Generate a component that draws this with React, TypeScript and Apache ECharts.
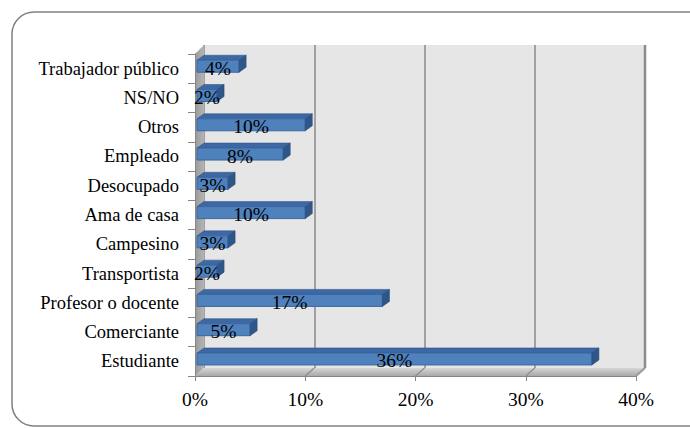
import React, { useEffect, useRef } from "react";
import * as echarts from "echarts";

const categories = [
  "Estudiante",
  "Comerciante",
  "Profesor o docente",
  "Transportista",
  "Campesino",
  "Ama de casa",
  "Desocupado",
  "Empleado",
  "Otros",
  "NS/NO",
  "Trabajador público",
];
const values = [36, 5, 17, 2, 3, 10, 3, 8, 10, 2, 4];
const axisMin = 0;
const axisMax = 40;
const axisStep = 10;

const FONT = "'Times New Roman', 'Liberation Serif', serif";

export default function App() {
  const ref = useRef<HTMLDivElement>(null);
  useEffect(() => {
    if (!ref.current) return;
    const chart = echarts.init(ref.current, null, { renderer: "svg" });
    const front = { left: 195, top: 54, width: 441, height: 322 };
    const back = { left: 204, top: 45, width: 441, height: 323 };
    const ox = back.left - front.left;
    const oy = front.top + front.height - (back.top + back.height);
    const nTicks = (axisMax - axisMin) / axisStep;
    const floorLines: any[] = [];
    for (let i = 1; i < nTicks; i++) {
      const x = front.left + (front.width * i) / nTicks;
      floorLines.push({
        type: "line",
        z: 1,
        shape: { x1: x, y1: front.top + front.height, x2: x + ox, y2: front.top + front.height - oy },
        style: { stroke: "#8a8a8a", lineWidth: 1.2 },
      });
    }
    const option: any = {
      animation: false,
      backgroundColor: "#ffffff",
      textStyle: { fontFamily: FONT },
      grid: [
        { ...front, containLabel: false, z: 0 },
        { ...back, show: true, backgroundColor: "#e6e6e6", borderWidth: 0, z: 0 },
      ],
      graphic: [
        {
          type: "rect",
          z: -5,
          shape: { x: 12, y: 12, width: 700, height: 414, r: 22 },
          style: { fill: "none", stroke: "#808080", lineWidth: 1.5 },
        },
        {
          type: "polygon",
          z: 1,
          shape: {
            points: [
              [front.left, front.top],
              [back.left, back.top],
              [back.left, back.top + back.height],
              [front.left, front.top + front.height],
            ],
          },
          style: {
            fill: new echarts.graphic.LinearGradient(0, 0, 1, 0, [
              { offset: 0, color: "#9a9a9a" },
              { offset: 1, color: "#b4b4b4" },
            ]),
          },
        },
        {
          type: "polygon",
          z: 1,
          shape: {
            points: [
              [front.left, front.top + front.height],
              [back.left, back.top + back.height],
              [back.left + back.width, back.top + back.height],
              [front.left + front.width, front.top + front.height],
            ],
          },
          style: {
            fill: new echarts.graphic.LinearGradient(0, 0, 0, 1, [
              { offset: 0, color: "#d6d6d6" },
              { offset: 1, color: "#a9a9a9" },
            ]),
          },
        },
        {
          type: "line",
          z: 1,
          shape: {
            x1: back.left + back.width,
            y1: back.top,
            x2: back.left + back.width,
            y2: back.top + back.height,
          },
          style: { stroke: "#8c8c8c", lineWidth: 2.5 },
        },
        {
          type: "line",
          z: 1,
          shape: {
            x1: back.left + back.width,
            y1: back.top + back.height,
            x2: front.left + front.width,
            y2: front.top + front.height,
          },
          style: { stroke: "#9a9a9a", lineWidth: 2 },
        },
        ...floorLines,
      ],
      xAxis: [
        {
          gridIndex: 0,
          type: "value",
          min: axisMin,
          max: axisMax,
          interval: axisStep,
          z: 2,
          axisLine: { show: true, lineStyle: { color: "#868686", width: 1 } },
          axisTick: { show: true, length: 5, lineStyle: { color: "#868686" } },
          splitLine: { show: false },
          axisLabel: {
            formatter: "{value}%",
            color: "#000",
            fontSize: 19.5,
            fontFamily: FONT,
            margin: 13,
          },
        },
        {
          gridIndex: 1,
          type: "value",
          min: axisMin,
          max: axisMax,
          interval: axisStep,
          axisLine: { show: false },
          axisTick: { show: false },
          axisLabel: { show: false },
          splitLine: { show: true, lineStyle: { color: "#8a8a8a", width: 1.5 } },
        },
      ],
      yAxis: [
        {
          gridIndex: 0,
          type: "category",
          data: categories,
          z: 2,
          axisLine: { show: true, lineStyle: { color: "#868686" } },
          axisTick: { show: true, length: 7, lineStyle: { color: "#868686" } },
          axisLabel: {
            color: "#000",
            fontSize: 18.5,
            fontFamily: FONT,
            margin: 16,
          },
          splitLine: { show: false },
        },
        {
          gridIndex: 1,
          type: "category",
          data: categories,
          show: false,
        },
      ],
      series: [
        {
          type: "custom",
          xAxisIndex: 0,
          yAxisIndex: 0,
          z: 5,
          clip: false,
          encode: { x: 0, y: 1 },
          data: values.map((v, i) => [v, i]),
          renderItem: (params: any, api: any) => {
            const v = api.value(0);
            const idx = api.value(1);
            const p0 = api.coord([0, idx]);
            const p1 = api.coord([v, idx]);
            const h = 12;
            const dx = 7;
            const dy = 5;
            const cy = p0[1] - 2.4;
            const x0 = p0[0] + 2;
            const x1 = p1[0];
            const top = cy - h / 2;
            const bot = cy + h / 2;
            return {
              type: "group",
              children: [
                {
                  type: "polygon",
                  shape: {
                    points: [
                      [x0, top],
                      [x0 + dx, top - dy],
                      [x1 + dx, top - dy],
                      [x1, top],
                    ],
                  },
                  style: { fill: "#3d68a3", stroke: "#30578c", lineWidth: 0.6 },
                },
                {
                  type: "rect",
                  shape: { x: x0, y: top, width: x1 - x0, height: h },
                  style: { fill: "#4f81bd", stroke: "#3b679f", lineWidth: 1 },
                },
                {
                  type: "polygon",
                  shape: {
                    points: [
                      [x1, top],
                      [x1 + dx, top - dy],
                      [x1 + dx, bot - dy],
                      [x1, bot],
                    ],
                  },
                  style: { fill: "#2f5689", stroke: "#2a4c7a", lineWidth: 0.6 },
                },
                {
                  type: "text",
                  style: {
                    text: v + "%",
                    x: (x0 + x1) / 2,
                    y: cy + 2,
                    align: "center",
                    verticalAlign: "middle",
                    fontSize: 19.5,
                    fontFamily: FONT,
                    fill: "#000",
                  },
                },
              ],
            };
          },
        },
      ],
    };
    chart.setOption(option);
    return () => chart.dispose();
  }, []);
  return (
    <div
      ref={ref}
      style={{ position: "fixed", left: 0, top: 0, width: 690, height: 428 }}
    />
  );
}
